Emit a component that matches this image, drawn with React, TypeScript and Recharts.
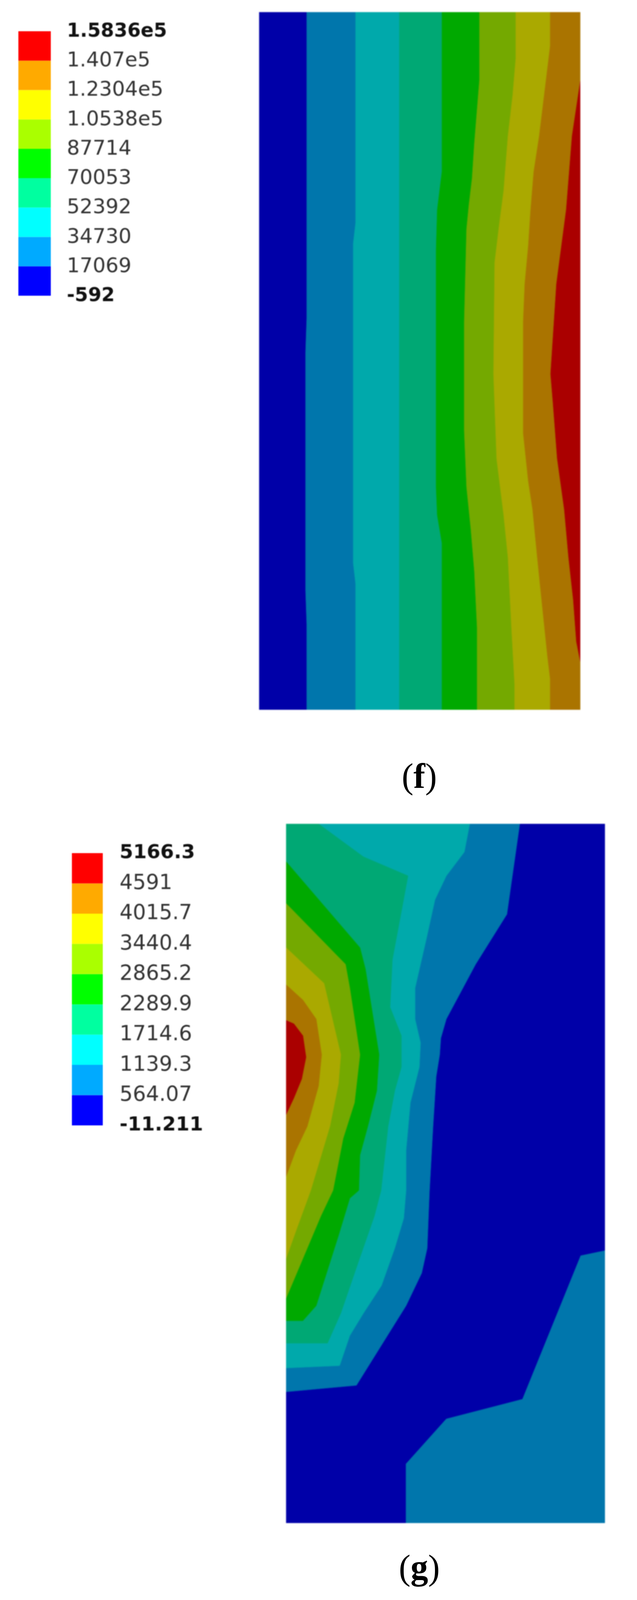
import React from 'react';
import { BarChart, Bar, XAxis, YAxis, ScatterChart, Scatter, Polygon } from 'recharts';

// Legend scales, bottom band first
const legendColors = ['#0000ff', '#00aaff', '#00ffff', '#00ffa0', '#00ff00', '#aaff00', '#ffff00', '#ffaa00', '#ff0000'];
const shadedColors = ['#0000a8', '#0076ac', '#00a9ab', '#00a874', '#00a900', '#74a900', '#aaa900', '#aa7400', '#aa0000'];
const labelsF = ['-592', '17069', '34730', '52392', '70053', '87714', '1.0538e5', '1.2304e5', '1.407e5', '1.5836e5'];
const labelsG = ['-11.211', '564.07', '1139.3', '1714.6', '2289.9', '2865.2', '3440.4', '4015.7', '4591', '5166.3'];
const bandKeys = ['b0', 'b1', 'b2', 'b3', 'b4', 'b5', 'b6', 'b7', 'b8'];
const legendTicks = [0, 1, 2, 3, 4, 5, 6, 7, 8, 9];
const legendRow = [{ name: 'scale', b0: 1, b1: 1, b2: 1, b3: 1, b4: 1, b5: 1, b6: 1, b7: 1, b8: 1 }];

type Pt = [number, number];

// Panel (f): contour outlines, model coordinates
const fExtent: Pt = [822, 2051];
const fBand0: Pt[] = [[0, 0], [0, 2051], [822, 2051], [822, 0]];
const fBand1: Pt[] = [[122, 0], [122, 900], [119, 1000], [119, 1700], [122, 1800], [122, 2051], [822, 2051], [822, 0]];
const fBand2: Pt[] = [[247, 0], [247, 620], [241, 680], [241, 1620], [247, 1680], [247, 2051], [822, 2051], [822, 0]];
const fBand3: Pt[] = [[359, 0], [359, 2051], [822, 2051], [822, 0]];
const fBand4: Pt[] = [[468, 0], [468, 469], [456, 581], [453, 700], [453, 1396], [456, 1479], [468, 1561], [468, 2051], [822, 2051], [822, 0]];
const fBand5: Pt[] = [[564, 0], [564, 200], [551, 385], [545, 490], [537, 567], [531, 638], [525, 911], [525, 1230], [531, 1396], [542, 1520], [551, 1644], [558, 1810], [558, 2051], [822, 2051], [822, 0]];
const fBand6: Pt[] = [[657, 0], [657, 136], [649, 245], [637, 364], [626, 525], [614, 631], [603, 736], [600, 1064], [608, 1313], [626, 1479], [637, 1603], [646, 1810], [654, 1976], [654, 2051], [822, 2051], [822, 0]];
const fBand7: Pt[] = [[745, 0], [745, 100], [717, 364], [703, 469], [695, 581], [689, 687], [680, 799], [676, 911], [676, 1238], [689, 1379], [700, 1462], [712, 1603], [723, 1727], [738, 1893], [745, 1960], [745, 2051], [822, 2051], [822, 0]];
const fBand8: Pt[] = [[822, 203], [801, 364], [786, 581], [761, 799], [746, 1064], [752, 1147], [763, 1313], [781, 1462], [792, 1603], [804, 1727], [812, 1851], [822, 1909]];
const fBands: Pt[][] = [fBand0, fBand1, fBand2, fBand3, fBand4, fBand5, fBand6, fBand7, fBand8];
const fBandLevels = [0, 1, 2, 3, 4, 5, 6, 7, 8];

// Panel (g)
const gExtent: Pt = [816, 2056];
const gBase: Pt[] = [[0, 0], [0, 2056], [816, 2056], [816, 0]];
const gCorner: Pt[] = [[816, 1255], [754, 1270], [605, 1692], [410, 1750], [307, 1882], [307, 2056], [816, 2056]];
const gBand1: Pt[] = [[598, 0], [579, 153], [565, 266], [485, 413], [410, 574], [396, 630], [393, 679], [384, 743], [376, 890], [367, 1078], [361, 1248], [347, 1321], [307, 1417], [180, 1651], [0, 1670], [0, 0]];
const gBand2: Pt[] = [[470, 0], [456, 83], [410, 153], [381, 223], [358, 343], [330, 483], [330, 574], [344, 644], [341, 715], [318, 820], [307, 960], [307, 1078], [301, 1160], [278, 1248], [244, 1358], [198, 1439], [163, 1505], [137, 1593], [0, 1600], [0, 0]];
const gBand3: Pt[] = [[83, 0], [198, 97], [312, 153], [295, 258], [272, 399], [266, 539], [295, 623], [295, 715], [278, 785], [261, 890], [243, 1078], [226, 1153], [186, 1285], [140, 1439], [106, 1527], [0, 1527], [0, 0]];
const gBand4: Pt[] = [[0, 111], [189, 364], [203, 427], [238, 679], [232, 785], [209, 890], [189, 974], [186, 1078], [163, 1101], [134, 1211], [77, 1417], [43, 1461], [0, 1461]];
const gBand5: Pt[] = [[0, 234], [152, 413], [163, 483], [189, 679], [175, 820], [146, 925], [120, 1078], [89, 1153], [0, 1395]];
const gBand6: Pt[] = [[0, 364], [97, 469], [140, 679], [134, 764], [112, 890], [63, 1078], [28, 1188], [0, 1278]];
const gBand7: Pt[] = [[0, 473], [43, 518], [77, 574], [91, 679], [83, 771], [54, 890], [25, 960], [0, 1037]];
const gBand8: Pt[] = [[0, 578], [20, 588], [43, 623], [51, 686], [40, 750], [20, 806], [0, 855]];
const gBands: Pt[][] = [gBase, gCorner, gBand1, gBand2, gBand3, gBand4, gBand5, gBand6, gBand7, gBand8];
const gBandLevels = [0, 1, 1, 2, 3, 4, 5, 6, 7, 8];

const noDot = () => <g />;

function ContourPanel({ extent, bands, levels, left, top, width, height, blur }: { extent: Pt; bands: Pt[][]; levels: number[]; left: number; top: number; width: number; height: number; blur: number }) {
  return (
    <div style={{ position: 'absolute', left, top, filter: `blur(${blur}px)` }}>
      <ScatterChart width={width} height={height} margin={{ top: 0, right: 0, bottom: 0, left: 0 }}>
        <XAxis type="number" dataKey="x" domain={[0, extent[0]]} hide />
        <YAxis type="number" dataKey="y" domain={[0, extent[1]]} reversed hide />
        {bands.map((pts, i) => {
          const fill = shadedColors[levels[i]];
          return (
            <Scatter
              key={i}
              data={pts.map(([x, y]) => ({ x, y }))}
              shape={noDot}
              isAnimationActive={false}
              line={(p: any) => <Polygon points={p.points} fill={fill} stroke={fill} strokeWidth={1} />}
            />
          );
        })}
      </ScatterChart>
    </div>
  );
}

function ColorLegend({ labels, left, top, barWidth, barHeight, labelOffset, fontSize, boldSize, labelShift }: {
  labels: string[]; left: number; top: number; barWidth: number; barHeight: number; labelOffset: number; fontSize: number; boldSize: number; labelShift: number;
}) {
  const pad = 60;
  const axisWidth = 330;
  const tick = (p: any) => {
    const i = p.payload.value;
    const bold = i === 0 || i === 9;
    return (
      <text
        x={p.x + labelOffset}
        y={p.y + labelShift}
        dominantBaseline="central"
        textAnchor="start"
        fontFamily="DejaVu Sans"
        fontWeight={bold ? 700 : 400}
        fontSize={bold ? boldSize : fontSize}
        fill={bold ? '#111' : '#333'}
      >
        {labels[i]}
      </text>
    );
  };
  return (
    <div style={{ position: 'absolute', left, top: top - pad, filter: 'blur(1.2px)' }}>
      <BarChart
        width={barWidth + axisWidth}
        height={barHeight + 2 * pad}
        data={legendRow}
        barCategoryGap={0}
        margin={{ top: pad, right: 0, bottom: pad, left: 0 }}
      >
        <XAxis dataKey="name" hide />
        <YAxis
          type="number"
          orientation="right"
          domain={[0, 9]}
          ticks={legendTicks}
          interval={0}
          width={axisWidth}
          axisLine={false}
          tickLine={false}
          tickSize={0}
          tickMargin={0}
          tick={tick}
        />
        {bandKeys.map((k, i) => (
          <Bar key={k} dataKey={k} stackId="scale" fill={legendColors[i]} isAnimationActive={false} />
        ))}
      </BarChart>
    </div>
  );
}

function Caption({ letter, y }: { letter: string; y: number }) {
  return (
    <text x={1073} y={y} textAnchor="middle" fontFamily="Liberation Serif" fontSize={90} fill="#000">
      (<tspan fontWeight={700}>{letter}</tspan>)
    </text>
  );
}

export default function App() {
  return (
    <div style={{ position: 'relative', margin: '-8px 0 -8px -8px', width: 1630, height: 4096, background: '#fff', overflow: 'hidden' }}>
      <ColorLegend labels={labelsF} left={47} top={80} barWidth={83} barHeight={677} labelOffset={41} fontSize={52} boldSize={49} labelShift={-3} />
      <ContourPanel extent={fExtent} bands={fBands} levels={fBandLevels} left={663} top={31} width={822} height={1786} blur={1.5} />
      <ColorLegend labels={labelsG} left={184} top={2184} barWidth={79} barHeight={697} labelOffset={43} fontSize={53} boldSize={50} labelShift={-4} />
      <ContourPanel extent={gExtent} bands={gBands} levels={gBandLevels} left={732} top={2109} width={816} height={1790} blur={1.5} />
      <svg width={1630} height={4096} style={{ position: 'absolute', left: 0, top: 0, pointerEvents: 'none' }}>
        <Caption letter="f" y={2017} />
        <Caption letter="g" y={4043} />
      </svg>
    </div>
  );
}
